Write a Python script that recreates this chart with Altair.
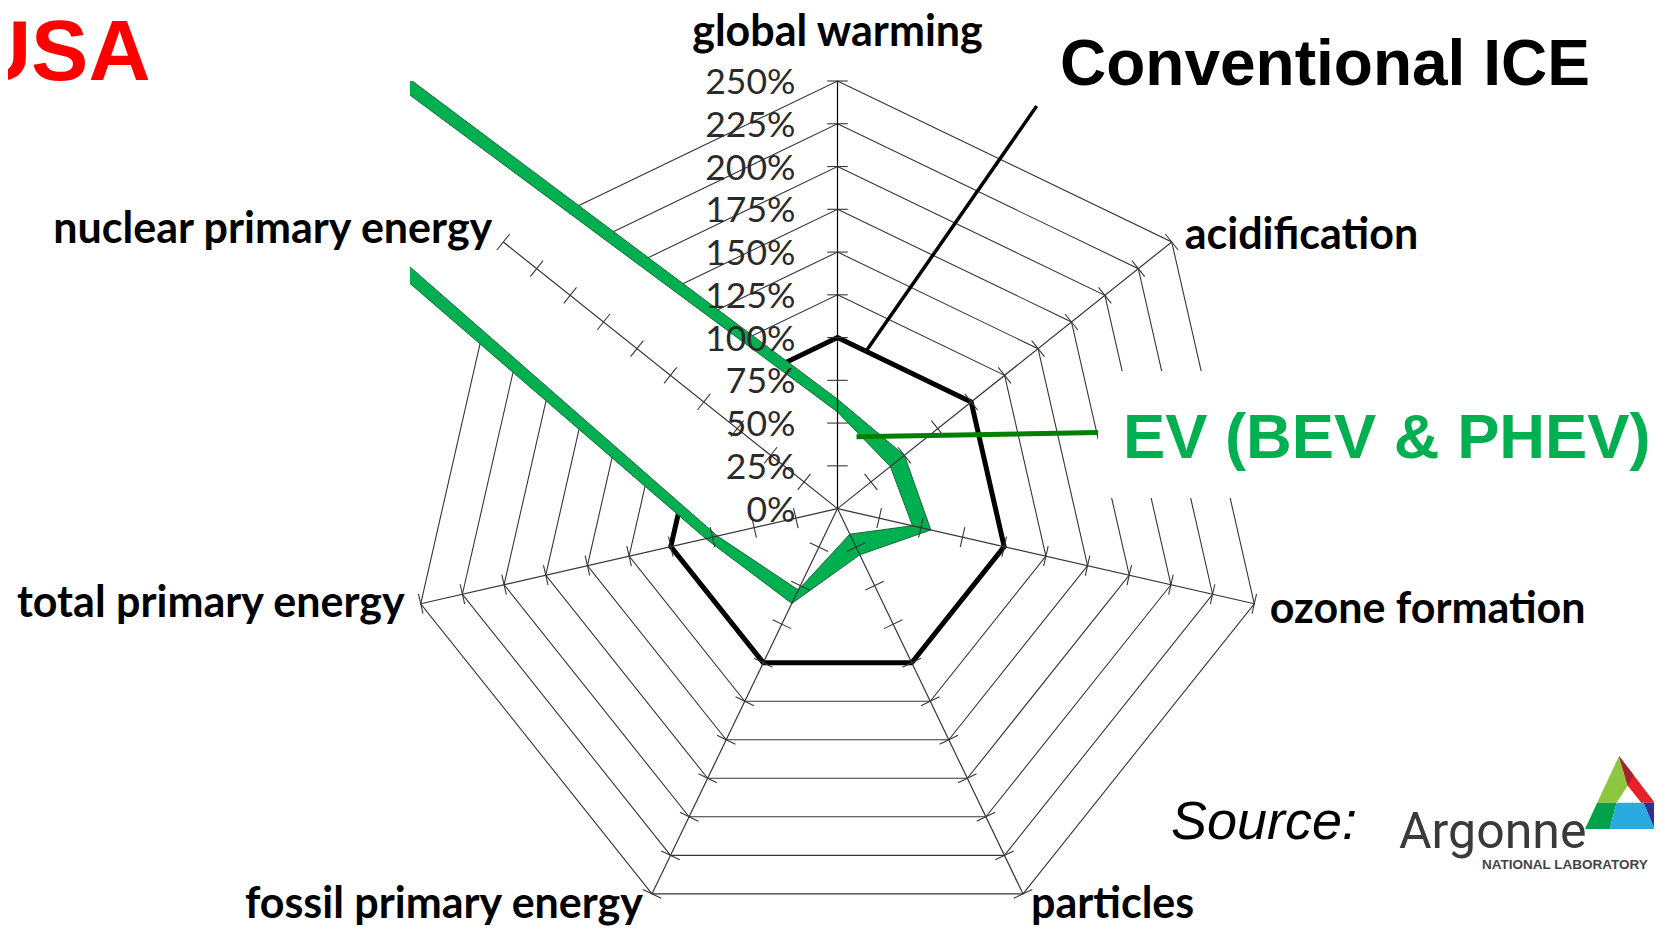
import altair as alt
import pandas as pd

# ---------------- data ----------------
CATEGORIES = ["global warming", "acidification", "ozone formation", "particles",
              "fossil primary energy", "total primary energy", "nuclear primary energy"]
ICE_VALUES = [100, 100, 100, 100, 100, 100, 100]
EV_HIGH = [64, 50, 56, 30, 61.5, 79, 1650]
EV_LOW = [56.5, 39.5, 45, 16.6, 52.8, 72, 1280]
GRID_LEVELS = [25, 50, 75, 100, 125, 150, 175, 200, 225, 250]
TICK_VALUES = [0, 25, 50, 75, 100, 125, 150, 175, 200, 225, 250]
TICK_LABELS = ["0%", "25%", "50%", "75%", "100%", "125%", "150%", "175%", "200%", "225%", "250%"]
R_MAX = 250

N = len(CATEGORIES)

series_rows = []
for name, vals in (("ICE", ICE_VALUES), ("EV_HIGH", EV_HIGH), ("EV_LOW", EV_LOW)):
    for i, v in enumerate(vals):
        series_rows.append({"series": name, "idx": i, "value": v})
series_df = pd.DataFrame(series_rows)

ring_df = pd.DataFrame([{"level": L, "idx": i, "value": L}
                        for L in GRID_LEVELS for i in range(N)])
spoke_df = pd.DataFrame({"idx": list(range(N)), "value": [R_MAX] * N, "cat": CATEGORIES})
pct_df = pd.DataFrame({"idx": [0] * len(TICK_VALUES), "value": TICK_VALUES, "label": TICK_LABELS})
one_df = pd.DataFrame({"k": [0]})

# ---------------- layout / style ----------------
LABEL_FONT = "Lato"
# align, dx, dy (pixels) relative to the 250% end of each spoke
LABEL_LAYOUT = {
    0: ("center", 0, -35.5),
    1: ("left", 13, 7),
    2: ("left", 15.5, 19),
    3: ("left", 8, 24),
    4: ("right", -9, 24),
    5: ("right", -16, 13),
    6: ("right", -11, 1.5),
}
GREEN = "#00b050"
GRID_COLOR = "#363636"

X_SCALE = alt.Scale(domain=[-250, 250], nice=False, zero=False)
Y_SCALE = alt.Scale(domain=[-230, 250], nice=False, zero=False)


def polar(ch):
    return (ch.transform_calculate(ang=f"datum.idx * 2 * PI / {N}")
              .transform_calculate(px="datum.value * sin(datum.ang)")
              .transform_calculate(py="datum.value * cos(datum.ang)")
              .transform_calculate(deg=f"datum.idx * 360 / {N}")
              .transform_calculate(zero="0"))


X = alt.X("px:Q", scale=X_SCALE, axis=None)
Y = alt.Y("py:Q", scale=Y_SCALE, axis=None)

layers = []

# grid rings
layers.append(polar(alt.Chart(ring_df)).mark_line(
    interpolate="linear-closed", color=GRID_COLOR, strokeWidth=1.1
).encode(x=X, y=Y, detail="level:N", order="idx:Q"))

# ICE polygon
layers.append(polar(alt.Chart(series_df)).transform_filter("datum.series == 'ICE'").mark_line(
    interpolate="linear-closed", filled=True, fill="white", stroke="black",
    strokeWidth=5, strokeJoin="miter", opacity=1
).encode(x=X, y=Y, order="idx:Q"))

# EV band: upper polygon green, lower polygon white
layers.append(polar(alt.Chart(series_df)).transform_filter("datum.series == 'EV_HIGH'").mark_line(
    interpolate="linear-closed", filled=True, fill=GREEN, stroke="#17693a",
    strokeWidth=1, clip=True, opacity=1
).encode(x=X, y=Y, order="idx:Q"))
layers.append(polar(alt.Chart(series_df)).transform_filter("datum.series == 'EV_LOW'").mark_line(
    interpolate="linear-closed", filled=True, fill="white", stroke="#17693a",
    strokeWidth=1, clip=True, opacity=1
).encode(x=X, y=Y, order="idx:Q"))

# spokes
layers.append(polar(alt.Chart(spoke_df)).mark_rule(strokeWidth=1.2).encode(
    x=alt.X("zero:Q", scale=X_SCALE, axis=None),
    y=alt.Y("zero:Q", scale=Y_SCALE, axis=None),
    x2="px:Q", y2="py:Q",
    color=alt.condition("datum.idx == 0", alt.value("black"), alt.value(GRID_COLOR)),
))

# tick marks on spokes
layers.append(polar(alt.Chart(ring_df)).mark_point(
    shape="stroke", size=420, strokeWidth=1.1, color=GRID_COLOR, opacity=1
).encode(x=X, y=Y, angle=alt.Angle("deg:Q", scale=None)))

# percent labels
layers.append(polar(alt.Chart(pct_df)).mark_text(
    align="right", baseline="middle", dx=-42, dy=2, font=LABEL_FONT,
    fontSize=35.5, color="#2a2a2a"
).encode(x=X, y=Y, text="label:N"))

# category labels
for i, (al, dx, dy) in LABEL_LAYOUT.items():
    layers.append(polar(alt.Chart(spoke_df)).transform_filter(f"datum.idx == {i}").mark_text(
        align=al, baseline="alphabetic", dx=dx, dy=dy, font=LABEL_FONT,
        fontWeight="bold", fontSize=43, color="black"
    ).encode(x=X, y=Y, text="cat:N"))

# white box behind the EV label
layers.append(alt.Chart(one_df).mark_rect(color="white", opacity=1).encode(
    x=alt.value(688), x2=alt.value(1250), y=alt.value(290), y2=alt.value(417)))

# pointer lines
layers.append(alt.Chart(one_df).mark_rule(color="black", strokeWidth=3.5).encode(
    x=alt.value(626.7), y=alt.value(25), x2=alt.value(457), y2=alt.value(268.8)))
layers.append(alt.Chart(one_df).mark_rule(color="#008000", strokeWidth=5).encode(
    x=alt.value(446.5), y=alt.value(355.7), x2=alt.value(688), y2=alt.value(351.5)))


# annotation texts
def note(text, x, y, size, color, font="Liberation Sans", weight="bold", style="normal"):
    return alt.Chart(one_df).mark_text(
        text=text, align="left", baseline="alphabetic", font=font, fontSize=size,
        fontWeight=weight, fontStyle=style, color=color
    ).encode(x=alt.value(x), y=alt.value(y))


layers.append(note("USA", -441, -1.5, 86, "#ff0000"))
layers.append(note("Conventional ICE", 650, 3.8, 64, "black"))
layers.append(note("EV (BEV & PHEV)", 713, 377, 63.3, GREEN))
layers.append(note("Source:", 761, 758, 54, "black", weight="normal", style="italic"))
layers.append(note("Argonne", 989, 767, 50, "#3a3a3a", font="Roboto", weight="normal"))
layers.append(note("NATIONAL LABORATORY", 1072, 788, 13.5, "#444444"))

# Argonne triangle logo (decorative glyph pieces)
LOGO_PIECES = pd.DataFrame({
    "path": [
        "M -0.244 -0.811 L -0.729 0.23 L -0.3 0.23 L -0.05 -0.15 Z",
        "M -0.244 -0.811 L 0.554 0.23 L 0.25 0.23 L -0.05 -0.15 Z",
        "M -0.244 -0.811 L 0.08 -0.39 L -0.05 -0.15 Z",
        "M -0.729 0.23 L -1 0.811 L -0.45 0.811 L -0.3 0.23 Z",
        "M -0.3 0.23 L -0.45 0.811 L 0.55 0.811 L 0.3 0.23 Z",
        "M 0.3 0.23 L 0.55 0.811 L 1 0.811 L 0.554 0.23 Z",
    ],
    "col": ["#8dc63f", "#e8202a", "#a3232a", "#00a14b", "#29abe2", "#2e3192"],
})
layers.append(alt.Chart(LOGO_PIECES).mark_point(
    filled=True, size=8100, opacity=1, strokeWidth=0
).encode(
    x=alt.value(1220), y=alt.value(711.5),
    shape=alt.Shape("path:N", scale=None),
    color=alt.Color("col:N", scale=None),
))

chart = alt.layer(*layers).properties(
    width=855, height=821,
    padding={"left": 402, "top": 73, "right": 389, "bottom": 25},
    autosize=alt.AutoSizeParams(type="none"),
).configure_view(strokeWidth=0)

chart.save("out.html", embed_options={"renderer": "svg", "actions": False})
